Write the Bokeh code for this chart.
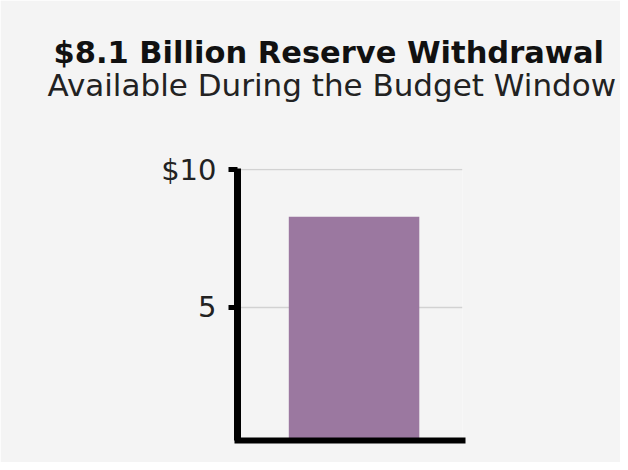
from bokeh.plotting import figure
from bokeh.models import Range1d, FactorRange, FixedTicker, Title, ColumnDataSource
from bokeh.transform import dodge
from bokeh.embed import file_html
from bokeh.resources import INLINE

# Data
categories = ["Reserve Withdrawal"]
values = [8.3]
y_ticks = [5, 10]
y_tick_labels = {5: "5", 10: "$10"}
title_text = "$8.1 Billion Reserve Withdrawal"
subtitle_text = "Available During the Budget Window"

BG = "#f4f4f4"
FONT = "DejaVu Sans"

source = ColumnDataSource(data=dict(cat=categories, val=values))

p = figure(
    width=620, height=462,
    x_range=FactorRange(factors=categories, range_padding=0),
    y_range=Range1d(0.16, 10.05),
    output_backend="svg", toolbar_location=None,
    min_border_left=237, min_border_right=158,
    min_border_top=168, min_border_bottom=22,
    background_fill_color=BG, border_fill_color=BG,
    outline_line_color=None,
)

p.vbar(x=dodge("cat", 0.018, range=p.x_range), top="val", bottom=0, width=0.58,
       source=source, fill_color="#9b78a0", line_color=None)

# spacer between frame and subtitle
p.add_layout(Title(text=" ", text_font=FONT, text_font_size="30px",
                   standoff=29), "above")
# titles (subtitle first so it sits closer to the frame)
p.add_layout(Title(text=subtitle_text, text_font=FONT, text_font_size="31px",
                   text_font_style="normal", text_color="#222222", align="left",
                   offset=-190, standoff=0), "above")
p.add_layout(Title(text=title_text, text_font=FONT, text_font_size="30.5px",
                   text_font_style="bold", text_color="#111111", align="left",
                   offset=-184, standoff=-11), "above")

# y axis
p.yaxis.ticker = FixedTicker(ticks=y_ticks)
p.yaxis.major_label_overrides = y_tick_labels
p.yaxis.axis_line_width = 7
p.yaxis.axis_line_color = "black"
p.yaxis.major_tick_line_width = 5
p.yaxis.major_tick_line_color = "black"
p.yaxis.major_tick_out = 9
p.yaxis.major_tick_in = 0
p.yaxis.minor_tick_line_color = None
p.yaxis.major_label_standoff = 12
p.yaxis.major_label_text_font = FONT
p.yaxis.major_label_text_font_size = "29px"
p.yaxis.major_label_text_color = "#222222"

# x axis
p.xaxis.axis_line_width = 6
p.xaxis.axis_line_color = "black"
p.xaxis.axis_line_cap = "square"
p.xaxis.major_tick_line_color = None
p.xaxis.minor_tick_line_color = None
p.xaxis.major_label_text_font_size = "0px"
p.xaxis.major_label_text_alpha = 0

# grid
p.xgrid.grid_line_color = None
p.ygrid.ticker = FixedTicker(ticks=y_ticks)
p.ygrid.grid_line_color = "#d2d2d2"
p.ygrid.grid_line_width = 1.5

open("out.html", "w").write(file_html(p, INLINE))
